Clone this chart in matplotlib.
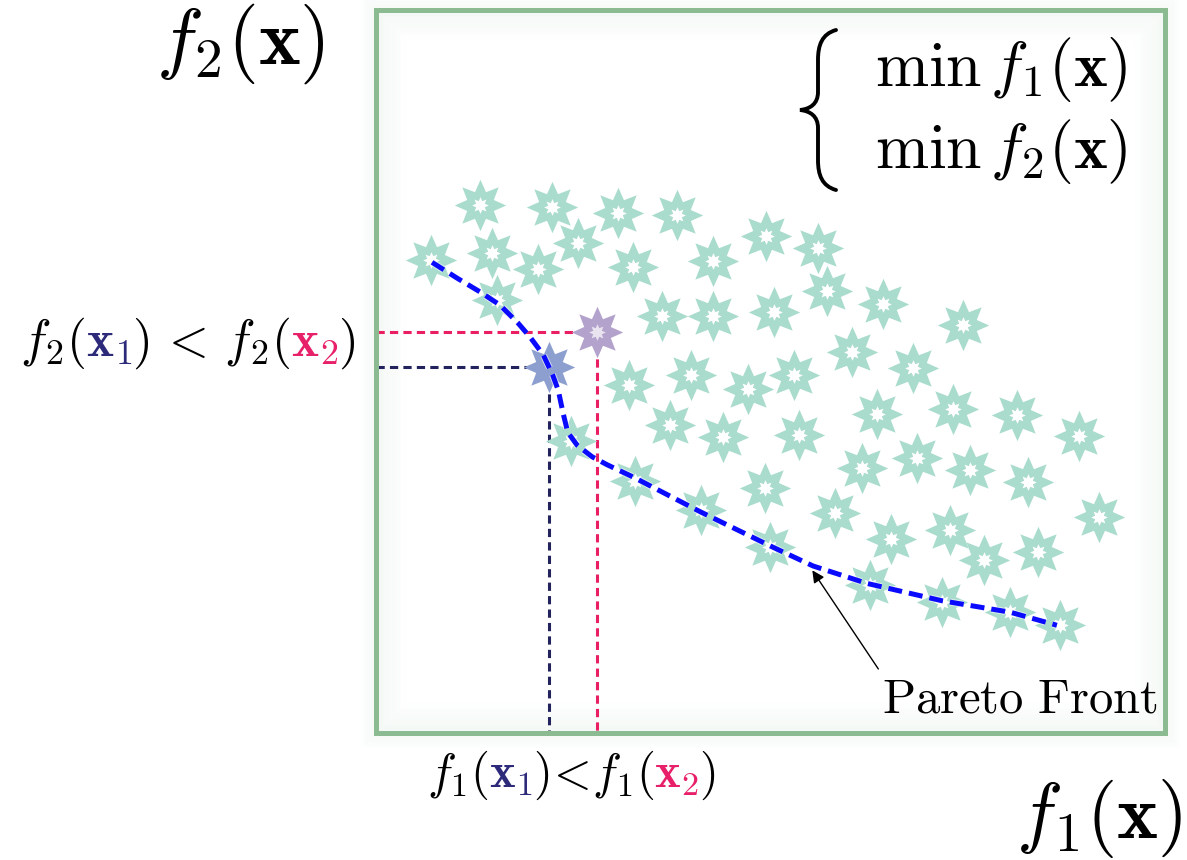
import numpy as np
import matplotlib
matplotlib.use('Agg')
import matplotlib.pyplot as plt
from matplotlib.path import Path
from matplotlib.patches import PathPatch, Rectangle
from matplotlib.offsetbox import TextArea, HPacker, AnnotationBbox
import matplotlib.patheffects as pe

plt.rcParams['mathtext.fontset'] = 'cm'

# objective values of the sampled solutions (f1, f2)
f1_pts = [0.70, 1.32, 1.47, 1.53, 2.23, 2.05, 2.56, 3.07, 3.26, 3.81, 4.27, 4.94, 5.60,
          3.62, 4.27, 5.04, 5.72, 6.43, 7.44, 6.03, 6.81, 3.21, 3.99, 4.71, 5.30,
          3.73, 4.40, 5.36, 6.35, 7.31, 8.12, 8.91, 6.16, 6.86, 7.53, 8.26,
          2.47, 3.28, 4.12, 4.93, 5.82, 6.53, 7.27, 7.71, 8.39, 9.16,
          4.99, 6.26, 7.17, 8.04, 8.67]
f2_pts = [6.54, 7.30, 6.64, 5.99, 7.28, 6.42, 6.78, 7.19, 6.45, 7.16, 6.53, 6.87, 6.71,
          5.77, 5.77, 5.82, 6.11, 5.93, 5.64, 5.27, 5.05, 4.81, 4.95, 4.76, 4.95,
          4.26, 4.09, 4.12, 4.41, 4.48, 4.40, 4.11, 3.67, 3.80, 3.64, 3.47,
          4.04, 3.49, 3.08, 3.39, 3.04, 2.68, 2.81, 2.39, 2.50, 2.99,
          2.57, 2.05, 1.81, 1.67, 1.49]

# the two compared solutions
x1_f1, x1_f2 = 2.19, 5.06
x2_f1, x2_f2 = 2.80, 5.55

# pareto front
front_f1 = [0.71, 1.03, 1.32, 1.57, 1.80, 1.95, 2.12, 2.24, 2.31, 2.37, 2.43, 2.55,
            2.74, 2.93, 3.26, 4.11, 5.03, 5.54, 6.22, 7.17, 8.04, 8.63]
front_f2 = [6.51, 6.29, 6.10, 5.92, 5.67, 5.48, 5.23, 4.95, 4.74, 4.43, 4.16, 3.98,
            3.82, 3.71, 3.54, 3.06, 2.57, 2.31, 2.07, 1.83, 1.67, 1.49]

teal = '#a9dccd'
navy = '#22225c'
pink = '#ea1e63'
green = '#8cba91'

W, H = 1187, 860
fig = plt.figure(figsize=(W / 100, H / 100), dpi=100)
ax = fig.add_axes([376 / W, 1 - 733 / H, 789 / W, 723 / H])
ax.set_xlim(0, 10)
ax.set_ylim(0, 10)
ax.set_xticks([])
ax.set_yticks([])
for s in ax.spines.values():
    s.set_color(green)
    s.set_linewidth(3.6)

# soft glow on the inside and outside of the frame
for i in range(1, 16):
    a = 0.07 * (1 - i / 16.)
    d = 2 * i
    ax.add_patch(Rectangle((d / 789., d / 723.), 1 - 2 * d / 789., 1 - 2 * d / 723.,
                           transform=ax.transAxes, fill=False, ec='#78b582', lw=1.6,
                           alpha=a, zorder=0))
for i in range(1, 8):
    a = 0.06 * (1 - i / 8.)
    d = -2 * i
    ax.add_patch(Rectangle((d / 789., d / 723.), 1 - 2 * d / 789., 1 - 2 * d / 723.,
                           transform=ax.transAxes, fill=False, ec='#78b582', lw=1.6,
                           alpha=a, zorder=0, clip_on=False))

star = Path.unit_regular_star(8, 0.56)

# guide lines
ax.plot([0, x2_f1], [x2_f2, x2_f2], color=pink, lw=2.2, dashes=(2.7, 1.7), zorder=2)
ax.plot([x2_f1, x2_f1], [x2_f2, 0], color=pink, lw=2.2, dashes=(2.7, 1.7), zorder=2)
ax.plot([0, x1_f1], [x1_f2, x1_f2], color=navy, lw=2.2, dashes=(2.7, 1.7), zorder=2)
ax.plot([x1_f1, x1_f1], [x1_f2, 0], color=navy, lw=2.2, dashes=(2.7, 1.7), zorder=2)

ax.plot(f1_pts, f2_pts, ls='none', marker=star, ms=37, color=teal, mec='none', zorder=3)
ax.plot(f1_pts, f2_pts, ls='none', marker=star, ms=12, color='white', mec='none', zorder=3)

ax.plot([x2_f1], [x2_f2], ls='none', marker=star, ms=37, color='#b3a2cc', mec='none', zorder=3)
ax.plot([x1_f1], [x1_f2], ls='none', marker=star, ms=37, color='#8d9fcf', mec='none', zorder=3)
ax.plot([x2_f1], [x2_f2], ls='none', marker=star, ms=12, color='white', mec='none', alpha=0.7, zorder=3)

ax.plot(front_f1, front_f2, color='#0a0aff', lw=3.6, dashes=(2.8, 1.4), zorder=4,
        solid_joinstyle='round',
        path_effects=[pe.Stroke(linewidth=5, foreground='white', alpha=0.6), pe.Normal()])

ax.annotate(r'$\mathrm{Pareto\ Front}$', xy=(5.53, 2.25), xytext=(6.41, 0.29),
            fontsize=35, ha='left', va='baseline',
            arrowprops=dict(arrowstyle='-|>', color='k', lw=1.0, relpos=(0, 1),
                            shrinkA=2, shrinkB=0, mutation_scale=18))

# axis names
fig.text(240 / W, 1 - 44 / H, r'$f_2(\mathbf{x})$', fontsize=57, ha='center', va='center')
fig.text(1099 / W, 1 - 818 / H, r'$f_1(\mathbf{x})$', fontsize=56, ha='center', va='center')

# problem statement with brace
fig.text(875 / W, 1 - 86 / H, r'$\min\,f_1(\mathbf{x})$', fontsize=46, ha='left', va='baseline')
fig.text(875 / W, 1 - 168 / H, r'$\min\,f_2(\mathbf{x})$', fontsize=46, ha='left', va='baseline')
bp = [(836, 30), (822, 34), (818, 45), (818, 60), (818, 92), (818, 104), (810, 109), (800, 110),
      (810, 111), (818, 116), (818, 128), (818, 160), (818, 175), (822, 186), (836, 190)]
bc = [Path.MOVETO, Path.CURVE4, Path.CURVE4, Path.CURVE4, Path.LINETO, Path.CURVE4, Path.CURVE4,
      Path.CURVE4, Path.CURVE4, Path.CURVE4, Path.CURVE4, Path.LINETO, Path.CURVE4, Path.CURVE4,
      Path.CURVE4]
brace = Path([(x / W, 1 - y / H) for x, y in bp], bc)
fig.patches.append(PathPatch(brace, transform=fig.transFigure, fill=False, lw=2.8, ec='black',
                             capstyle='round'))


def colored_label(parts, size):
    boxes = [TextArea(t, textprops=dict(fontsize=size, color=c)) for t, c in parts]
    return HPacker(children=boxes, align='baseline', pad=0, sep=0)


left = colored_label([(r'$f_2($', 'black'), (r'$\mathbf{x}_1$', '#2e2a7a'),
                      (r'$)\,<\,f_2($', 'black'), (r'$\mathbf{x}_2$', '#e8206a'),
                      (r'$)$', 'black')], 37)
fig.add_artist(AnnotationBbox(left, (355 / W, 1 - 343 / H), xycoords='figure fraction',
                              box_alignment=(1, 0.5), frameon=False, pad=0))

bottom = colored_label([(r'$f_1($', 'black'), (r'$\mathbf{x}_1$', '#2e2a7a'),
                        (r'$)\!<\!f_1($', 'black'), (r'$\mathbf{x}_2$', '#e8206a'),
                        (r'$)$', 'black')], 35)
fig.add_artist(AnnotationBbox(bottom, (571 / W, 1 - 775 / H), xycoords='figure fraction',
                              box_alignment=(0.5, 0.5), frameon=False, pad=0))

fig.savefig('out.png', dpi=100)
